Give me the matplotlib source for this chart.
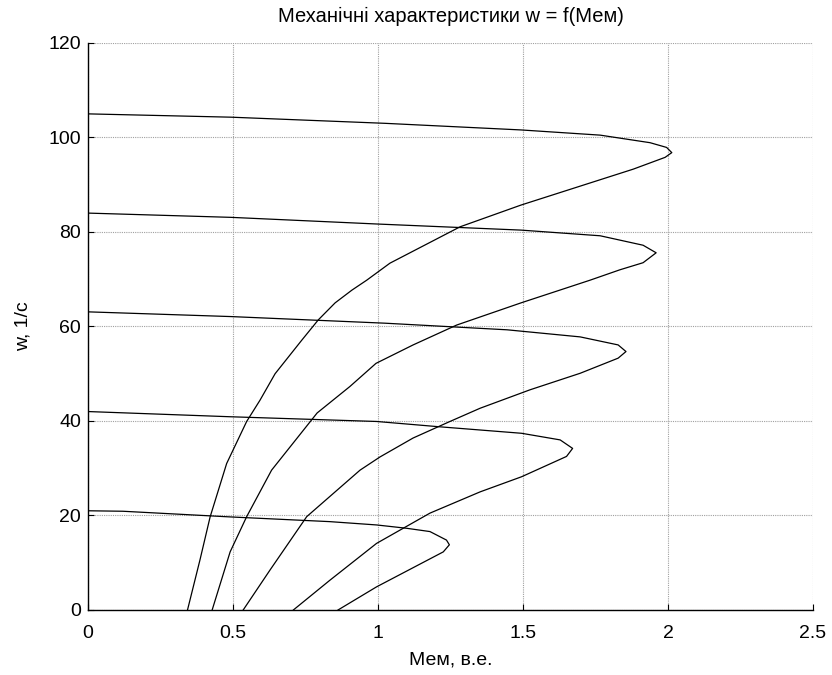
import numpy as np
import matplotlib
matplotlib.use("Agg")
import matplotlib.pyplot as plt

plt.rcParams['font.family'] = ['Liberation Sans', 'DejaVu Sans']

# mechanical characteristics (M in p.u., w in 1/s)
m1 = [0, 0.493, 1.024, 1.493, 1.766, 1.938, 1.995, 2.013, 1.99, 1.88, 1.493, 1.283,
      1.041, 0.961, 0.91, 0.852, 0.794, 0.737, 0.645, 0.593, 0.547, 0.478, 0.421, 0.386, 0.343]
w1 = [105, 104.3, 103.0, 101.6, 100.5, 98.9, 97.9, 96.8, 95.8, 93.3, 85.7, 81.1,
      73.4, 69.8, 67.7, 65.0, 61.4, 57.1, 50.0, 44.4, 39.9, 31.0, 19.7, 10.6, 0]

m2 = [0, 0.493, 0.993, 1.493, 1.766, 1.914, 1.959, 1.914, 1.834, 1.731, 1.493, 1.271,
      1.121, 0.993, 0.903, 0.79, 0.633, 0.547, 0.49, 0.428]
w2 = [84, 83.1, 81.7, 80.4, 79.2, 77.2, 75.6, 73.5, 72.0, 69.8, 65.0, 60.3,
      56.1, 52.2, 47.3, 41.7, 29.6, 19.75, 12.3, 0]

m3 = [0, 0.493, 1.024, 1.445, 1.697, 1.828, 1.855, 1.828, 1.697, 1.524, 1.352, 1.248,
      1.121, 1.007, 0.938, 0.754, 0.628, 0.535]
w3 = [63.1, 62.1, 60.7, 59.3, 57.8, 56.1, 54.7, 53.3, 50.1, 46.6, 42.7, 39.9,
      36.4, 32.4, 29.6, 19.75, 8.5, 0]

m4 = [0, 0.49, 0.995, 1.207, 1.495, 1.628, 1.671, 1.65, 1.495, 1.352, 1.179, 0.995,
      0.834, 0.708]
w4 = [42, 40.9, 39.9, 38.8, 37.4, 36.0, 34.2, 32.5, 28.2, 25.0, 20.5, 14.1,
      6.3, 0]

m5 = [0, 0.12, 0.49, 0.834, 0.995, 1.098, 1.179, 1.236, 1.246, 1.225, 0.995, 0.862]
w5 = [21, 20.9, 19.7, 18.7, 18.0, 17.3, 16.6, 14.8, 13.8, 12.3, 4.9, 0]

curves = [(m1, w1), (m2, w2), (m3, w3), (m4, w4), (m5, w5)]

fig = plt.figure(figsize=(8.32, 6.75), dpi=100)
ax = fig.add_axes([0.1058, 0.0963, 0.8714, 0.84])

for m, w in curves :
    ax.plot(m, w, color='black', lw=0.9)

ax.set_xlim(0, 2.5)
ax.set_ylim(0, 120)
ax.set_xticks([0, 0.5, 1, 1.5, 2, 2.5])
ax.set_xticklabels(['0', '0.5', '1', '1.5', '2', '2.5'])
ax.set_yticks(np.arange(0, 121, 20))

ax.grid(True, color='#a0a0a0', linestyle=(0, (1, 1)), lw=0.8)
ax.spines['top'].set_visible(False)
ax.spines['right'].set_visible(False)
ax.spines['left'].set_linewidth(1.0)
ax.spines['bottom'].set_linewidth(1.0)
ax.tick_params(direction='in', length=4, width=0.8, labelsize=14)
ax.tick_params(axis='x', pad=11)
ax.tick_params(axis='y', pad=5)

ax.set_title('Механічні характеристики w = f(Мем)', fontsize=14.5, pad=15)
ax.set_xlabel('Мем, в.е.', fontsize=14, labelpad=7)
ax.set_ylabel('w, 1/с', fontsize=14, labelpad=12)

fig.savefig('out.png', dpi=100)
